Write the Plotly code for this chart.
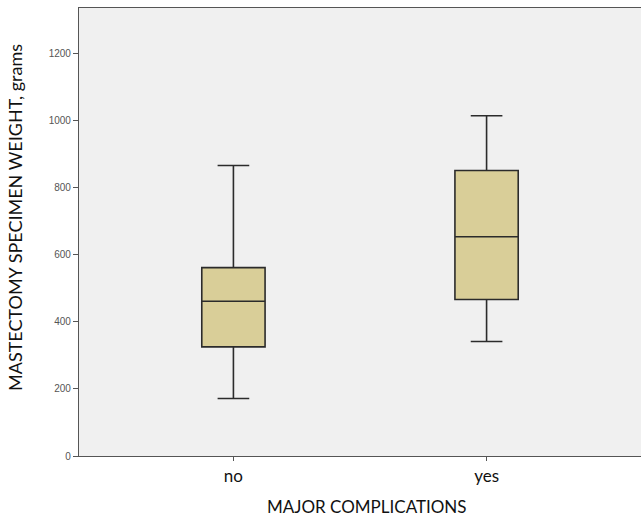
import plotly.graph_objects as go

categories = ["no", "yes"]
lower_whisker = [171, 341]
q1_values = [325, 466]
median_values = [461, 653]
q3_values = [561, 850]
upper_whisker = [865, 1013]
y_ticks = [0, 200, 400, 600, 800, 1000, 1200]

fig = go.Figure()
fig.add_trace(go.Box(
    x=categories,
    q1=q1_values,
    median=median_values,
    q3=q3_values,
    lowerfence=lower_whisker,
    upperfence=upper_whisker,
    width=0.25,
    whiskerwidth=0.5,
    fillcolor="#D9CE98",
    line=dict(color="#2b2b2b", width=1.6),
    boxpoints=False,
    showlegend=False,
    hoverinfo="skip",
))

fig.update_layout(
    width=641,
    height=519,
    margin=dict(l=79, r=0, t=8, b=63),
    paper_bgcolor="white",
    plot_bgcolor="#F0F0F0",
    showlegend=False,
    font=dict(family="Lato, Open Sans, sans-serif", color="#111"),
)

fig.update_xaxes(
    range=[-0.61, 1.61],
    showline=True, linecolor="#555", linewidth=1.2, mirror=True,
    ticks="outside", ticklen=4, tickcolor="#555",
    tickfont=dict(size=17, family="Lato, sans-serif", color="#111"),
    showgrid=False, zeroline=False,
)
fig.update_yaxes(
    range=[0, 1334],
    tickvals=y_ticks,
    ticktext=[str(v) for v in y_ticks],
    showline=True, linecolor="#555", linewidth=1.2,
    ticks="outside", ticklen=5, tickcolor="#555",
    tickfont=dict(size=10, family="Liberation Sans, Arial, sans-serif", color="#555"),
    showgrid=False, zeroline=False,
)

fig.add_annotation(
    text="MASTECTOMY SPECIMEN WEIGHT, grams",
    xref="paper", yref="paper", x=0, y=0.5,
    xshift=-64, yshift=14, textangle=-90, showarrow=False,
    xanchor="center", yanchor="middle",
    font=dict(size=18, family="Lato, sans-serif", color="#111"),
)
fig.add_annotation(
    text="MAJOR COMPLICATIONS",
    xref="x", yref="paper", x=0.5, y=0,
    xshift=7, yshift=-50, showarrow=False,
    xanchor="center", yanchor="middle",
    font=dict(size=17, family="Lato, sans-serif", color="#111"),
)

fig.write_html(
    "out.html",
    config={"displayModeBar": False},
    post_script="document.body.style.margin='0';document.body.style.overflow='hidden';",
)
